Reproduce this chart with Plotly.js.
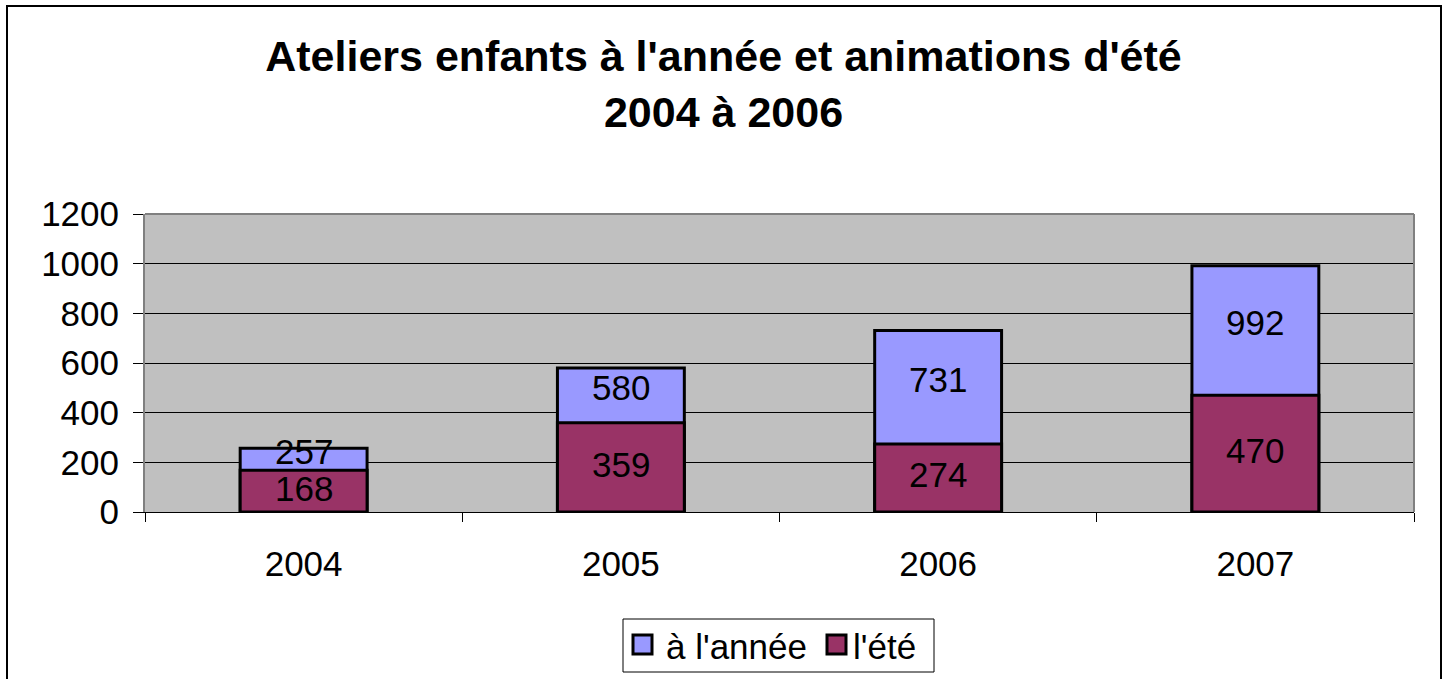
<!DOCTYPE html>
<html>
<head>
<meta charset="utf-8">
<script src="https://cdn.plot.ly/plotly-3.0.1.min.js"></script>
<style>
html,body{margin:0;padding:0;background:#fff;}
#chart{width:1447px;height:679px;}
</style>
</head>
<body>
<div id="chart"></div>
<script>
const years = ['2004', '2005', '2006', '2007'];
const anneeValues = [257, 580, 731, 992];
const eteValues = [168, 359, 274, 470];
const seriesNames = ["à l'année", "l'été"];
const seriesColors = ['#9999FF', '#993366'];
const yTicks = [0, 200, 400, 600, 800, 1000, 1200];

const FONT = 'Liberation Sans, Arial, sans-serif';
const FS = 35;

const traces = [
  {
    type: 'bar', name: seriesNames[0], x: years, y: anneeValues,
    marker: {color: seriesColors[0], line: {color: '#000000', width: 3}},
    width: 0.4, hoverinfo: 'x+y', showlegend: false
  },
  {
    type: 'bar', name: seriesNames[1], x: years, y: eteValues,
    marker: {color: seriesColors[1], line: {color: '#000000', width: 3}},
    width: 0.4, hoverinfo: 'x+y', showlegend: false
  }
];

const annotations = [];
years.forEach((yr, i) => {
  annotations.push({
    x: i, y: (anneeValues[i] + eteValues[i]) / 2, xref: 'x', yref: 'y',
    text: String(anneeValues[i]), showarrow: false, yshift: 8,
    font: {family: FONT, size: FS, color: '#000'}
  });
  annotations.push({
    x: i, y: eteValues[i] / 2, xref: 'x', yref: 'y',
    text: String(eteValues[i]), showarrow: false, yshift: 3,
    font: {family: FONT, size: FS, color: '#000'}
  });
});

// custom legend (pixel -> paper helpers)
const PL = 145, PR = 1414, PT = 214, PB = 512;
const px = v => (v - PL) / (PR - PL);
const py = v => (PB - v) / (PB - PT);

const shapes = [
  {type: 'line', xref: 'paper', yref: 'paper', x0: 0, x1: 1, y0: 1, y1: 1, line: {color: '#808080', width: 2}, layer: 'above'},
  {type: 'line', xref: 'paper', yref: 'paper', x0: 1, x1: 1, y0: 0, y1: 1, line: {color: '#808080', width: 2}, layer: 'above'},
  {type: 'rect', xref: 'paper', yref: 'paper',
   x0: px(7), x1: px(1441), y0: py(690), y1: py(6),
   line: {color: '#000', width: 2}, fillcolor: 'rgba(0,0,0,0)', layer: 'above'},
  // legend box
  {type: 'rect', xref: 'paper', yref: 'paper',
   x0: px(623), x1: px(934), y0: py(672), y1: py(619),
   line: {color: '#000', width: 1}, fillcolor: '#fff', layer: 'above'}
];
const legendItems = [
  {sx: 633, tx: 664},
  {sx: 827, tx: 851}
];
legendItems.forEach((it, k) => {
  shapes.push({type: 'rect', xref: 'paper', yref: 'paper',
    x0: px(it.sx), x1: px(it.sx + 19), y0: py(654), y1: py(635),
    line: {color: '#000', width: 3}, fillcolor: seriesColors[k], layer: 'above'});
  annotations.push({xref: 'paper', yref: 'paper', x: px(it.tx), y: py(646),
    xanchor: 'left', yanchor: 'middle', showarrow: false,
    text: seriesNames[k], font: {family: FONT, size: FS, color: '#000'}});
});

const layout = {
  width: 1447, height: 679,
  margin: {l: PL, r: 1447 - PR, t: PT, b: 679 - PB, autoexpand: false},
  paper_bgcolor: '#ffffff',
  plot_bgcolor: '#C0C0C0',
  barmode: 'overlay',
  font: {family: FONT, size: FS, color: '#000'},
  title: {
    text: "Ateliers enfants à l'année et animations d'été<br>2004 à 2006",
    font: {family: FONT, size: 43, color: '#000', weight: 'bold'},
    x: 0.5, xref: 'container', xanchor: 'center',
    y: 0.895, yref: 'container', yanchor: 'top'
  },
  xaxis: {
    type: 'category', categoryorder: 'array', categoryarray: years,
    range: [-0.5, 3.5], autorange: false,
    tickson: 'boundaries', ticks: 'outside', ticklen: 9, tickcolor: '#000', tickwidth: 1,
    showline: true, linecolor: '#000', linewidth: 1,
    showgrid: false, zeroline: false, tickangle: 0,
    tickfont: {family: FONT, size: FS, color: '#000'},
    ticklabelstandoff: 21
  },
  yaxis: {
    range: [0, 1200], autorange: false, tickvals: yTicks, ticktext: yTicks.map(String),
    ticks: 'outside', ticklen: 10, tickcolor: '#000', tickwidth: 1,
    showline: true, linecolor: '#808080', linewidth: 2,
    showgrid: true, gridcolor: '#000', gridwidth: 1,
    zeroline: false,
    tickfont: {family: FONT, size: FS, color: '#000'},
    ticklabelstandoff: 7
  },
  showlegend: false,
  annotations: annotations,
  shapes: shapes
};

Plotly.newPlot('chart', traces, layout, {displayModeBar: false, staticPlot: true});
</script>
</body>
</html>
